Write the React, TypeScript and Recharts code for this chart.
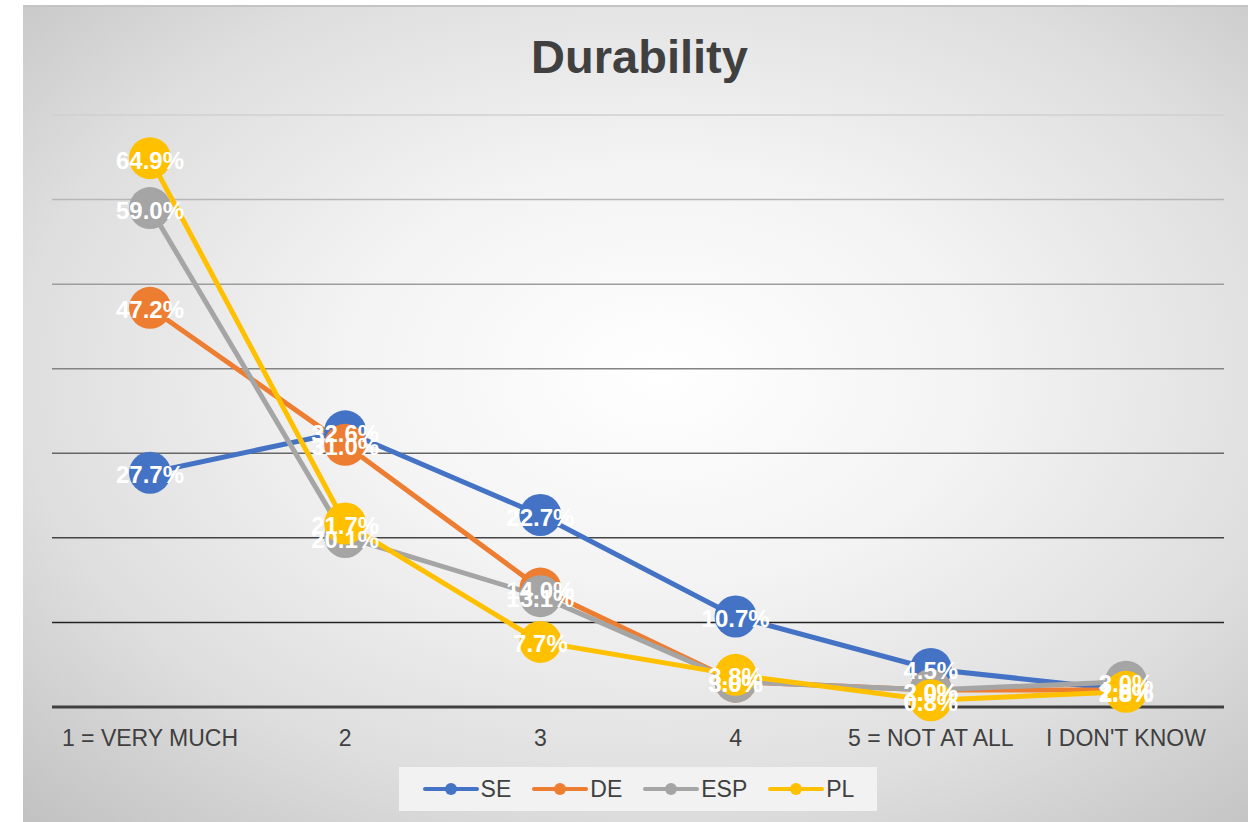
import { LineChart, Line, XAxis, YAxis, CartesianGrid, Legend, LabelList } from "recharts";

const categories = ["1 = VERY MUCH", "2", "3", "4", "5 = NOT AT ALL", "I DON'T KNOW"];
const se = [27.7, 32.6, 22.7, 10.7, 4.5, 2.0];
const de = [47.2, 31.0, 14.0, 3.0, 2.0, 2.0];
const esp = [59.0, 20.1, 13.1, 3.0, 2.0, 3.0];
const pl = [64.9, 21.7, 7.7, 3.8, 0.8, 1.8];
const yTicks = [0, 10, 20, 30, 40, 50, 60, 70];

const series = [
  { key: "SE", values: se, color: "#4472c4" },
  { key: "DE", values: de, color: "#ed7d31" },
  { key: "ESP", values: esp, color: "#a5a5a5" },
  { key: "PL", values: pl, color: "#ffc000" },
];

const data = categories.map((name, i) => {
  const row: Record<string, string | number> = { name };
  series.forEach((s) => (row[s.key] = s.values[i]));
  return row;
});

const font = "'Liberation Sans', Arial, sans-serif";

const LegendBox = () => (
  <div
    style={{
      width: 478,
      height: 44,
      margin: "0 auto",
      background: "#f2f2f2",
      display: "flex",
      alignItems: "center",
      justifyContent: "center",
      gap: 20,
      fontFamily: font,
      fontSize: 23,
      color: "#404040",
      boxSizing: "border-box",
    }}
  >
    {series.map((s) => (
      <div key={s.key} style={{ display: "flex", alignItems: "center" }}>
        <svg width={58} height={14}>
          <line x1={3} y1={7} x2={55} y2={7} stroke={s.color} strokeWidth={4} strokeLinecap="round" />
          <circle cx={29} cy={7} r={6} fill={s.color} />
        </svg>
        <span style={{ marginLeft: 1 }}>{s.key}</span>
      </div>
    ))}
  </div>
);

export default function App() {
  return (
    <div
      style={{
        position: "absolute",
        left: 23,
        top: 5,
        width: 1225,
        height: 817,
        borderTop: "2px solid #c4c4c4",
        boxSizing: "border-box",
        background:
          "radial-gradient(ellipse 75% 75% at 52% 45%, #ffffff 0%, #f3f3f3 35%, #dedede 70%, #c2c2c2 100%)",
      }}
    >
      <div
        style={{
          position: "absolute",
          top: 22,
          left: 4,
          width: 1225,
          textAlign: "center",
          fontFamily: font,
          fontWeight: "bold",
          fontSize: 47,
          color: "#404040",
        }}
      >
        Durability
      </div>
      <LineChart
        width={1225}
        height={815}
        data={data}
        margin={{ top: 108, right: 24, bottom: 11, left: 29 }}
        style={{ position: "absolute", top: 0, left: 0 }}
      >
        <defs>
          <linearGradient id="gridGrad" gradientUnits="userSpaceOnUse" x1={0} y1={108} x2={0} y2={700}>
            <stop offset="0%" stopColor="#d0d0d0" />
            <stop offset="50%" stopColor="#777777" />
            <stop offset="100%" stopColor="#000000" />
          </linearGradient>
        </defs>
        <CartesianGrid vertical={false} stroke="url(#gridGrad)" strokeWidth={1.5} />
        <YAxis hide domain={[0, 70]} ticks={yTicks} />
        <XAxis
          dataKey="name"
          height={60}
          tickSize={0}
          tickMargin={23}
          padding={{ left: 98, right: 98 }}
          stroke="#404040"
          strokeWidth={3}
          tick={{ fill: "#404040", fontSize: 23, fontFamily: font }}
        />
        <Legend verticalAlign="bottom" height={44} content={() => <LegendBox />} />
        {series.map((s) => (
          <Line
            key={s.key}
            dataKey={s.key}
            stroke={s.color}
            strokeWidth={5}
            dot={{ r: 21, fill: s.color, stroke: "none" }}
            activeDot={false}
            isAnimationActive={false}
          >
            <LabelList
              dataKey={s.key}
              position="center"
              formatter={(v: number) => `${v.toFixed(1)}%`}
              fill="#ffffff"
              fontSize={24}
              fontWeight="bold"
              fontFamily={font}
              dy={2}
            />
          </Line>
        ))}
      </LineChart>
    </div>
  );
}
